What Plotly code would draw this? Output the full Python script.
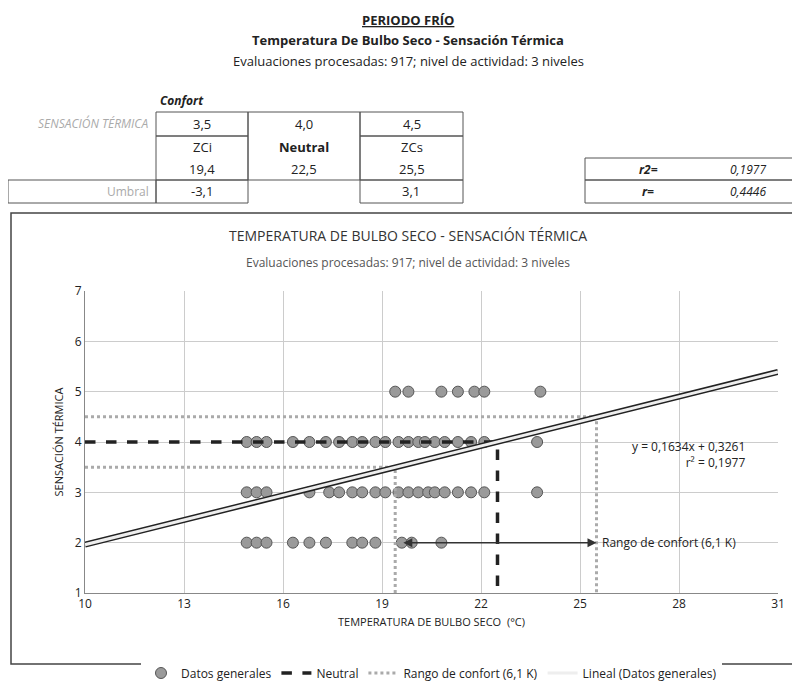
import plotly.graph_objects as go

x5 = [19.4, 19.8, 20.8, 21.3, 21.8, 22.1, 23.8]
x4 = [14.9, 15.2, 15.5, 16.3, 16.8, 17.3, 17.7, 18.1, 18.4, 18.8, 19.1, 19.5, 19.8, 20.1, 20.3, 20.6, 20.9, 21.3, 21.7, 22.1, 23.7]
x3 = [14.9, 15.2, 15.5, 16.8, 17.4, 17.7, 18.1, 18.4, 18.8, 19.1, 19.5, 19.8, 20.1, 20.4, 20.6, 20.9, 21.3, 21.7, 22.1, 23.7]
x2 = [14.9, 15.2, 15.5, 16.3, 16.8, 17.3, 18.1, 18.4, 18.8, 19.6, 19.9, 20.8]
slope, intercept = 0.1634, 0.3261
neutral_t, neutral_s = 22.5, 4.0
zci, zcs = 19.4, 25.5
st_low, st_high = 3.5, 4.5

xs = x5 + x4 + x3 + x2
ys = [5]*len(x5) + [4]*len(x4) + [3]*len(x3) + [2]*len(x2)

F = "Open Sans"
fig = go.Figure()
fig.add_trace(go.Scatter(x=xs, y=ys, mode="markers", name="Datos generales",
    marker=dict(size=11, color="#9a9a9a", line=dict(color="#555", width=1))))
fig.add_trace(go.Scatter(x=[10, neutral_t, neutral_t], y=[neutral_s, neutral_s, 1], mode="lines",
    name="Neutral", line=dict(color="#222", width=3.5, dash="dash")))
fig.add_trace(go.Scatter(x=[zci, zci, None, 10, zcs, zcs, None, 10, zci], y=[1, st_low, None, st_high, st_high, 1, None, st_low, st_low],
    mode="lines", name="Rango de confort (6,1 K)", line=dict(color="#aaa", width=3, dash="dot")))
fig.add_trace(go.Scatter(x=[10, 31], y=[slope*10+intercept, slope*31+intercept], mode="lines",
    showlegend=False, line=dict(color="#222", width=6), hoverinfo="skip"))
fig.add_trace(go.Scatter(x=[10, 31], y=[slope*10+intercept, slope*31+intercept], mode="lines",
    name="Lineal (Datos generales)", line=dict(color="#eee", width=3)))

def px(x): return (x-77)/693
def py(y): return (585-y)/302

shapes = []
anns = []
def rect(x0, y0, x1, y1, w=1, c="#555"):
    shapes.append(dict(type="rect", xref="paper", yref="paper", x0=px(x0), x1=px(x1), y0=py(y1), y1=py(y0), line=dict(color=c, width=w)))
def txt(x, y, t, size=12, color="#222", anchor="center", bold=False, italic=False):
    if bold: t = "<b>"+t+"</b>"
    if italic: t = "<i>"+t+"</i>"
    anns.append(dict(xref="paper", yref="paper", x=px(x), y=py(y), text=t, showarrow=False, xanchor=anchor,
        yanchor="middle", font=dict(family=F, size=size, color=color)))

txt(400, 12, "<u>PERIODO FRÍO</u>", 13, bold=True)
txt(400, 32, "Temperatura De Bulbo Seco - Sensación Térmica", 13, bold=True)
txt(400, 53, "Evaluaciones procesadas: 917; nivel de actividad: 3 niveles", 13)
txt(150, 93, "Confort", 12, anchor="left", bold=True, italic=True)
cols = [148, 240, 352, 455]
rect(148, 104, 240, 128); rect(240, 104, 352, 172); rect(352, 104, 455, 128)
rect(148, 128, 240, 172); rect(352, 128, 455, 172)
rect(0, 172, 148, 195); rect(148, 172, 240, 195); rect(352, 172, 455, 195)
rect(577, 150, 795, 172); rect(577, 172, 795, 195)
txt(142, 116, "SENSACIÓN TÉRMICA", 12, "#aaa", "right", italic=True)
for i, (a, b, c) in enumerate([("3,5", "4,0", "4,5"), ("ZCi", "<b>Neutral</b>", "ZCs"), ("19,4", "22,5", "25,5")]):
    yy = [116, 139, 161][i]
    for j, t in enumerate([a, b, c]):
        txt((cols[j]+cols[j+1])/2, yy, t, 13)
txt(143, 183, "Umbral", 12, "#aaa", "right")
txt(194, 183, "-3,1", 13); txt(403, 183, "3,1", 13)
txt(640, 161, "r2=", 12, bold=True, italic=True); txt(740, 161, "0,1977", 12, italic=True)
txt(640, 183, "r=", 12, bold=True, italic=True); txt(740, 183, "0,4446", 12, italic=True)
rect(3, 205, 797, 656, 1.5, "#444")
txt(400, 227, "TEMPERATURA DE BULBO SECO - SENSACIÓN TÉRMICA", 14, "#333")
txt(400, 254, "Evaluaciones procesadas: 917; nivel de actividad: 3 niveles", 12, "#555")

anns.append(dict(x=zcs, y=2, ax=zci + 0.2, ay=2, xref="x", yref="y", axref="x", ayref="y", text="",
    showarrow=True, arrowhead=2, arrowsize=1.2, arrowwidth=1.5, arrowcolor="#333", startarrowhead=2, arrowside="end+start"))
anns.append(dict(x=zcs + 0.1, y=2, xref="x", yref="y", text="Rango de confort (6,1 K)", showarrow=False, xanchor="left",
    font=dict(family=F, size=12, color="#222")))
anns.append(dict(x=28.3, y=3.75, xref="x", yref="y", text="y = 0,1634x + 0,3261<br>r² = 0,1977", showarrow=False,
    font=dict(family=F, size=12, color="#222"), align="right"))

fig.update_layout(width=800, height=691, margin=dict(l=77, r=30, t=283, b=106, autoexpand=False),
    paper_bgcolor="white", plot_bgcolor="white", shapes=shapes, annotations=anns,
    font=dict(family=F, size=12, color="#222"),
    legend=dict(orientation="h", x=0.5, xanchor="center", y=py(665), yanchor="middle", font=dict(size=12)),
    xaxis=dict(range=[10, 31], tickvals=[10, 13, 16, 19, 22, 25, 28, 31], showgrid=True, gridcolor="#ccc",
        zeroline=False, showline=True, linecolor="#888", ticks="",
        title=dict(text="TEMPERATURA DE BULBO SECO  (°C)", font=dict(size=11), standoff=6)),
    yaxis=dict(range=[1, 7], dtick=1, showgrid=True, gridcolor="#ccc", zeroline=False, showline=True,
        linecolor="#888", ticks="", title=dict(text="SENSACIÓN TÉRMICA", font=dict(size=11), standoff=8)))
fig.write_html("out.html")
